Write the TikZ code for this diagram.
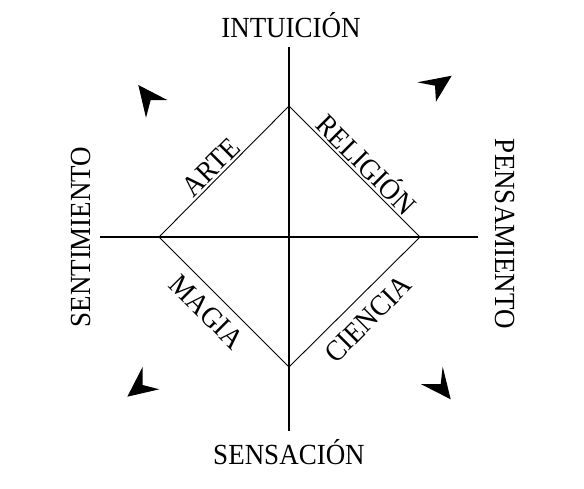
\documentclass[tikz,border=0pt]{standalone}
\usepackage{fontspec}
\setmainfont{Liberation Serif}
\newcommand{\tallword}[1]{\scalebox{1}[1.08]{#1}}
\begin{document}
\begin{tikzpicture}[x=1pt,y=-1pt,
  axis/.style={line width=1.2pt},
  edge/.style={line width=0.9pt},
  biglabel/.style={font=\fontsize{27}{30}\selectfont, inner sep=0pt},
  sidelabel/.style={font=\fontsize{27}{30}\selectfont, inner sep=0pt},
  tip/.style={fill=black}]
\useasboundingbox (0,0) rectangle (584,488);
% axes
\coordinate (vt) at (289,47);
\coordinate (vb) at (289,431);
\coordinate (hl) at (100,237);
\coordinate (hr) at (478,237);
\draw[axis] (vt) -- (vb);
\draw[axis] (hl) -- (hr);
% diamond
\coordinate (dt) at (289,106);
\coordinate (dl) at (159,237);
\coordinate (dr) at (420,237);
\coordinate (db) at (289,367);
\draw[edge] (dt) -- (dr) -- (db) -- (dl) -- cycle;
% axis labels
\node[biglabel] (int) at (291,25) {\tallword{INTUICIÓN}};
\node[biglabel] (sen) at (289,452) {\tallword{SENSACIÓN}};
\node[biglabel, rotate=90] (sent) at (81,237) {\tallword{SENTIMIENTO}};
\node[biglabel, rotate=-90] (pens) at (505,234) {\tallword{PENSAMIENTO}};
% diamond labels
\node[sidelabel, rotate=45] (arte) at (211,167) {\tallword{ARTE}};
\node[sidelabel, rotate=-45] (rel) at (368,163) {\tallword{RELIGIÓN}};
\node[sidelabel, rotate=-45] (mag) at (207,312) {\tallword{MAGIA}};
\node[sidelabel, rotate=45] (cie) at (368,319) {\tallword{CIENCIA}};
% arrowheads
\fill[tip] (138.3,85) -- (167.3,100) -- (150.7,100) -- (146,117.7) -- cycle;
\fill[tip] (451.7,75.7) -- (417.3,82.3) -- (435,85.7) -- (436,101.7) -- cycle;
\fill[tip] (127.3,396.7) -- (142.7,366.7) -- (142.7,385) -- (159.3,389.3) -- cycle;
\fill[tip] (450.7,399.3) -- (442.7,366.7) -- (440.7,384) -- (420.7,384) -- cycle;
\end{tikzpicture}
\end{document}
